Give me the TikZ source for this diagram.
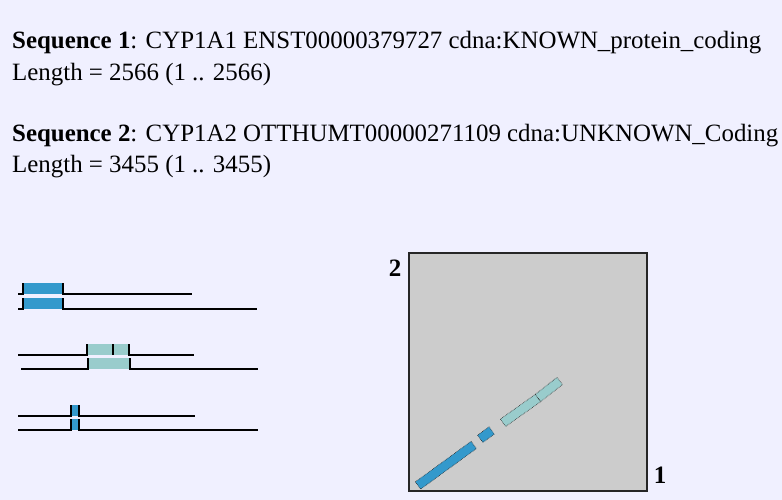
\documentclass[tikz,border=0pt]{standalone}
\usepackage{fontspec}
\setmainfont{Liberation Serif}
\usetikzlibrary{calc}
\definecolor{pageBg}{RGB}{240,240,255}
\definecolor{plotGray}{RGB}{204,204,204}
\definecolor{hitBlue}{RGB}{51,153,204}
\definecolor{hitTeal}{RGB}{153,204,204}

\tikzset{
  infotext/.style={anchor=base west, inner sep=0pt, font=\fontsize{24.9}{28}\selectfont},
  axislabel/.style={inner sep=0pt, font=\fontsize{25}{28}\selectfont\bfseries},
  seqline/.style={line width=2.8pt, black},
  edgetick/.style={line width=1.8pt, black},
  hitedge/.style={line width=0.6pt, densely dotted, draw=black!85},
}

% one aligned sequence: baseline y, start, end, box left, box right, colour
\newcommand{\hitrow}[6]{
  \fill[#6] (#4,#1-11) rectangle (#5,#1);
  \draw[seqline] (#2,#1) -- (#4,#1);
  \draw[seqline] (#5,#1) -- (#3,#1);
  \draw[edgetick] (#4,#1-11) -- (#4,#1+1);
  \draw[edgetick] (#5,#1-11) -- (#5,#1+1);
}
% one hit in the dot plot, from one end to the other
\newcommand{\dotseg}[3]{
  \filldraw[hitedge, fill=#3] ($(#1)!4.5pt!90:(#2)$) -- ($(#1)!4.5pt!-90:(#2)$)
    -- ($(#2)!4.5pt!90:(#1)$) -- ($(#2)!4.5pt!-90:(#1)$) -- cycle;
}

\begin{document}
\begin{tikzpicture}[x=1pt, y=-1pt]
  \fill[pageBg] (0,0) rectangle (782,500);

  \node[infotext] (seqA) at (12,49) {\textbf{Sequence 1}: CYP1A1 ENST00000379727 cdna:KNOWN\_protein\_coding};
  \node[infotext] (lenA) at (12,81) {Length = 2566 (1 .. 2566)};
  \node[infotext] (seqB) at (12,142) {\textbf{Sequence 2}: CYP1A2 OTTHUMT00000271109 cdna:UNKNOWN\_Coding};
  \node[infotext] (lenB) at (12,173) {Length = 3455 (1 .. 3455)};

  % pairwise views
  \hitrow{294}{18}{192}{23}{63}{hitBlue}
  \hitrow{309}{18}{257}{23}{63}{hitBlue}
  \hitrow{355}{18}{194}{87}{129}{hitTeal}
  \draw[edgetick] (113,344) -- (113,355);
  \hitrow{369}{21}{258}{88}{130}{hitTeal}
  \hitrow{416}{18}{195}{71}{79}{hitBlue}
  \hitrow{430}{18}{258}{71}{79}{hitBlue}

  % dot plot
  \filldraw[fill=plotGray, draw=black!85, line width=1.2pt] (409,253) rectangle (647,491);
  \node[axislabel] (axisB) at (395,268.5) {2};
  \node[axislabel] (axisA) at (660,475.5) {1};

  \coordinate (a0) at (418,485.5);
  \coordinate (a1) at (473.7,445);
  \coordinate (b0) at (480.2,438.8);
  \coordinate (b1) at (491.7,430.5);
  \coordinate (c0) at (503,422.8);
  \coordinate (c1) at (538,398);
  \coordinate (d1) at (559.7,381);
  \dotseg{a0}{a1}{hitBlue}
  \dotseg{b0}{b1}{hitBlue}
  \dotseg{c0}{c1}{hitTeal}
  \dotseg{c1}{d1}{hitTeal}
\end{tikzpicture}
\end{document}
